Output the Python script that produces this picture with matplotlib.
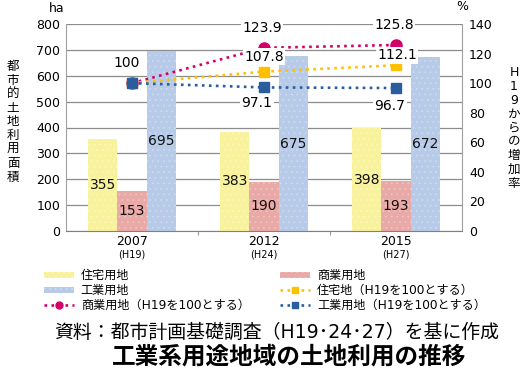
import matplotlib
matplotlib.use('Agg')
import matplotlib.pyplot as plt
import numpy as np
from matplotlib.patches import Patch
from matplotlib.lines import Line2D

plt.rcParams['font.family'] = ['DejaVu Sans', 'Noto Sans CJK JP']
plt.rcParams['hatch.linewidth'] = 0.5

# data
years = ['2007', '2012', '2015']
eras = ['(H19)', '(H24)', '(H27)']
residential = [355, 383, 398]
commercial = [153, 190, 193]
industrial = [695, 675, 672]
res_index = [100, 107.8, 112.1]
com_index = [100, 123.9, 125.8]
ind_index = [100, 97.1, 96.7]

yticks_left = [0, 100, 200, 300, 400, 500, 600, 700, 800]
yticks_right = [0, 20, 40, 60, 80, 100, 120, 140]

c_res, c_com, c_ind = '#f8f29c', '#e9a9a6', '#b7cbe8'
h_res, h_com, h_ind = '#fcf8c4', '#f0c4c2', '#cedcf1'
l_res, l_com, l_ind = '#ffc000', '#d4006a', '#2b5c9c'

fig = plt.figure(figsize=(5.31, 3.75), dpi=100)
ax = fig.add_axes([66/531, 144/375, 396/531, 207/375])

x = np.arange(len(years))
w = 0.22
b1 = ax.bar(x - w, residential, w, color=c_res, edgecolor=h_res, hatch='...', linewidth=0)
b2 = ax.bar(x, commercial, w, color=c_com, edgecolor=h_com, hatch='...', linewidth=0)
b3 = ax.bar(x + w, industrial, w, color=c_ind, edgecolor=h_ind, hatch='...', linewidth=0)

for bars, vals in [(b1, residential), (b2, commercial), (b3, industrial)]:
    for r, v in zip(bars, vals):
        ax.text(r.get_x() + r.get_width()/2, v/2, str(v), ha='center', va='center',
                fontsize=10, color='#111111')

ax.set_xlim(-0.5, 2.5)
ax.set_ylim(0, 800)
ax.set_yticks(yticks_left)
ax.tick_params(axis='y', length=0, labelsize=9, pad=4)
ax.yaxis.grid(True, color='#8c8c8c', linewidth=0.9)
ax.set_axisbelow(True)
ax.set_xticks([0.5, 1.5], minor=False)
ax.set_xticklabels([])
ax.tick_params(axis='x', length=3, color='#999999')
ax.set_xticks(x, minor=True)
ax.set_xticklabels(years, minor=True)
ax.tick_params(axis='x', which='minor', length=0, labelsize=9, pad=3)
for xi, e in zip(x, eras):
    ax.text(xi, -0.115, e, transform=ax.get_xaxis_transform(), ha='center', va='center', fontsize=7)
for s in ['left', 'right', 'top']:
    ax.spines[s].set_color('#a0a0a0')
ax.spines['top'].set_visible(False)
ax.spines['bottom'].set_color('#808080')

ax2 = ax.twinx()
ax2.set_ylim(0, 140)
ax2.set_yticks(yticks_right)
ax2.tick_params(axis='y', length=0, labelsize=9, pad=5)
for s in ['left', 'right', 'top', 'bottom']:
    ax2.spines[s].set_visible(False)

ax2.plot(x, com_index, linestyle=':', color=l_com, linewidth=1.9, marker='o', markersize=8, zorder=3)
ax2.plot(x, res_index, linestyle=':', color=l_res, linewidth=1.9, marker='s', markersize=7, zorder=3)
ax2.plot(x, ind_index, linestyle=':', color=l_ind, linewidth=1.9, marker='s', markersize=7, zorder=4)

box = dict(facecolor='white', edgecolor='none', pad=1)
def lab(xi, v, dx, dy):
    ax2.annotate(f'{v:g}', (xi, v), xytext=(dx, dy), textcoords='offset pixels',
                 ha='center', va='center', fontsize=10, bbox=box, zorder=5)

lab(0, 100, -5, 20)
lab(1, com_index[1], -2, 20)
lab(2, com_index[2], -2, 20)
lab(1, res_index[1], 0, 15)
lab(2, res_index[2], 1, 10)
lab(1, ind_index[1], -7, -16)
lab(2, ind_index[2], -6, -18)

# axis titles
fig.text(13/531, 1 - 122/375, '\n'.join('都市的土地利用面積'), ha='center', va='center',
         fontsize=9, linespacing=1.08)
fig.text(514/531, 1 - 128/375, '\n'.join(['H', '1', '9', 'か', 'ら', 'の', '増', '加', '率']),
         ha='center', va='center', fontsize=9, linespacing=1.08)
fig.text(57/531, 1 - 8/375, 'ha', ha='center', va='center', fontsize=9)
fig.text(462/531, 1 - 7/375, '%', ha='center', va='center', fontsize=9)

handles = [
    Patch(facecolor=c_res, edgecolor=h_res, hatch='...', linewidth=0),
    Patch(facecolor=c_ind, edgecolor=h_ind, hatch='...', linewidth=0),
    Line2D([], [], linestyle=':', color=l_com, linewidth=1.9, marker='o', markersize=5),
    Patch(facecolor=c_com, edgecolor=h_com, hatch='...', linewidth=0),
    Line2D([], [], linestyle=':', color=l_res, linewidth=1.9, marker='s', markersize=4.5),
    Line2D([], [], linestyle=':', color=l_ind, linewidth=1.9, marker='s', markersize=4.5),
]
labels = ['住宅用地', '工業用地', '商業用地（H19を100とする）',
          '商業用地', '住宅地（H19を100とする）', '工業用地（H19を100とする）']
fig.legend(handles, labels, ncol=2, loc='upper left', bbox_to_anchor=(44/531, 1 - 269/375),
           frameon=False, fontsize=8.7, handlelength=2.5, handleheight=0.42, handletextpad=0.55,
           labelspacing=0.17, columnspacing=2.5, borderpad=0, borderaxespad=0)

fig.text(277/531, 1 - 332/375, '資料：都市計画基礎調査（H19･24･27）を基に作成',
         ha='center', va='center', fontsize=13.6)
fig.text(289/531, 1 - 357/375, '工業系用途地域の土地利用の推移',
         ha='center', va='center', fontsize=17, fontweight='bold')

fig.savefig('out.png', dpi=100)
